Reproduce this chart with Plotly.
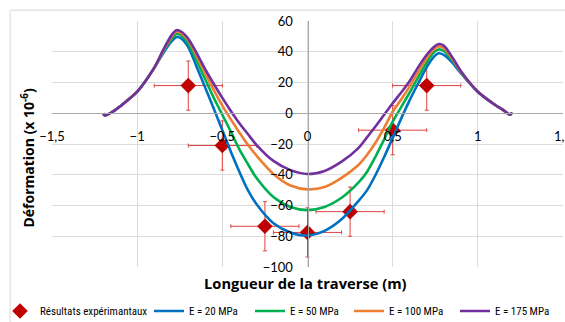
import plotly.graph_objects as go

# ---- data ----
x_model = [-1.2, -1.19, -1.15, -1.1, -1.0, -0.9, -0.85, -0.8, -0.77, -0.74, -0.7, -0.65, -0.6, -0.55,
           -0.5, -0.45, -0.4, -0.35, -0.3, -0.2, -0.1, 0.0, 0.1, 0.2, 0.3, 0.35, 0.4, 0.45, 0.5, 0.55,
           0.6, 0.65, 0.7, 0.74, 0.77, 0.8, 0.85, 0.9, 1.0, 1.1, 1.15, 1.19, 1.2]

e20 = [0, -1.5, 0.5, 4.5, 14, 29.5, 38.5, 46.5, 49.5, 48.5, 43, 30, 16.5, 3,
       -11, -25, -38, -50, -59, -71.5, -77.5, -79.5, -76.5, -69, -57, -50, -40, -28.5, -16, -3.5,
       8.5, 19.5, 30, 36.5, 39, 38, 33, 26, 14, 5.5, 2, -1, 0.5]
e50 = [0, -1.5, 0.5, 4.5, 14, 29.5, 39.5, 48, 51.5, 50.5, 45.5, 34, 22, 10,
       -1, -12, -23.5, -33, -42, -54.5, -61, -63, -61, -55, -45, -38, -28, -17, -5.5, 4,
       13.5, 23.5, 33, 39.5, 41.5, 40.5, 34.5, 26.5, 14, 5.5, 2, -1, 0.5]
e100 = [0, -1.5, 0.5, 4.5, 14, 29.5, 40, 49.5, 53, 52, 47.5, 37, 26, 15,
        5, -4, -12.5, -20.5, -27.5, -39.5, -47, -49.5, -48, -42, -33.5, -27, -19, -9.5, 1, 9,
        17.5, 27, 36, 41.5, 43.5, 42.5, 35.5, 27, 14, 5.5, 2, -1, 0.5]
e175 = [0, -1.5, 0.5, 4.5, 14, 29.5, 40.5, 50.5, 54, 53, 48.5, 39, 28.5, 19,
        10, 1.5, -6.5, -13.5, -20.5, -31, -37, -39.5, -37.5, -31.5, -22.5, -15.5, -8.5, -1, 6.5, 13.5,
        21, 30, 38, 43, 45, 44, 36.5, 27.5, 14, 5.5, 2, -1, 0.5]

x_exp = [-0.7, -0.5, -0.25, 0.0, 0.25, 0.5, 0.7]
y_exp = [18, -21, -73.5, -77.5, -64, -11, 18]
x_err = [0.2] * 7
y_err = [16] * 7

series_names = ["E = 20 MPa", "E = 50 MPa", "E = 100 MPa", "E = 175 MPa"]
series_vals = [e20, e50, e100, e175]
series_colors = ["#0070C0", "#00B050", "#ED7D31", "#7030A0"]

x_ticks = [-1.5, -1.0, -0.5, 0.0, 0.5, 1.0, 1.5]
y_ticks = [-100, -80, -60, -40, -20, 0, 20, 40, 60]

FONT = "Lato, 'Open Sans', sans-serif"
TITLE_FONT = "'Open Sans', Lato, sans-serif"
NARROW = "'Roboto Condensed', 'Liberation Sans Narrow', 'DejaVu Sans Condensed', 'Noto Sans', sans-serif"
LEG_SIZE = 11

fig = go.Figure()
fig.add_trace(go.Scatter(
    x=x_exp, y=y_exp, mode="markers", name="Résultats expérimantaux", legend="legend",
    marker=dict(symbol="diamond", size=12, color="#C00000"),
    error_x=dict(type="data", array=x_err, color="#E04040", thickness=1, width=2),
    error_y=dict(type="data", array=y_err, color="#E04040", thickness=1, width=2),
))
legend_ids = ["legend2", "legend3", "legend4", "legend5"]
for name, vals, col, lid in zip(series_names, series_vals, series_colors, legend_ids):
    fig.add_trace(go.Scatter(x=x_model, y=vals, mode="lines", name=name, legend=lid,
                             line=dict(color=col, width=2.6, shape="spline", smoothing=0.8)))

def leg(xpx):
    return dict(orientation="h", xref="container", yref="container", x=xpx / 565.0, y=0.034,
                xanchor="left", yanchor="middle", font=dict(size=LEG_SIZE, family=NARROW, color="#000000"),
                itemwidth=30, bgcolor="rgba(0,0,0,0)", borderwidth=0)

fig.update_layout(
    width=565, height=322,
    margin=dict(l=52, r=2, t=21, b=55, autoexpand=False),
    paper_bgcolor="white", plot_bgcolor="white",
    separators=", ",
    font=dict(family=FONT, size=13, color="#000000"),
    showlegend=True,
    legend=leg(0), legend2=leg(149), legend3=leg(250), legend4=leg(349), legend5=leg(455),
    xaxis=dict(range=[-1.5, 1.5], tickvals=x_ticks, anchor="free", position=0.625,
               showgrid=True, gridcolor="#DCDCDC", gridwidth=1, zeroline=False,
               showline=True, linecolor="#A8A8A8", linewidth=1,
               ticks="outside", ticklen=11, tickcolor="rgba(0,0,0,0)",
               ticklabeloverflow="allow",
               tickfont=dict(size=13, color="#000000")),
    yaxis=dict(range=[-100, 60], tickvals=y_ticks, anchor="free", position=0.5,
               showgrid=True, gridcolor="#DCDCDC", gridwidth=1, zeroline=False,
               showline=True, linecolor="#A8A8A8", linewidth=1,
               ticks="outside", ticklen=12, tickcolor="rgba(0,0,0,0)",
               ticklabeloverflow="allow",
               tickfont=dict(size=13, color="#000000")),
    annotations=[
        dict(text="Déformation (x 10<sup>-6</sup>)", xref="paper", yref="paper",
             x=-0.047, y=0.445, xanchor="center", yanchor="middle", textangle=-90,
             showarrow=False, font=dict(size=14, family=TITLE_FONT, color="#000000", weight="bold")),
        dict(text="Longueur de la traverse (m)", xref="paper", yref="paper",
             x=0.497, y=-0.065, xanchor="center", yanchor="middle",
             showarrow=False, font=dict(size=14.7, family=TITLE_FONT, color="#000000", weight="bold")),
    ],
    shapes=[dict(type="rect", xref="paper", yref="paper", x0=-0.082, x1=1.2, y0=-0.4, y1=1.044,
                 line=dict(color="#D9D9D9", width=1), fillcolor="rgba(0,0,0,0)", layer="below")],
)

fig.write_html("out.html", config={"displayModeBar": False},
               post_script="document.body.style.margin='0px';document.body.style.overflow='hidden';")
